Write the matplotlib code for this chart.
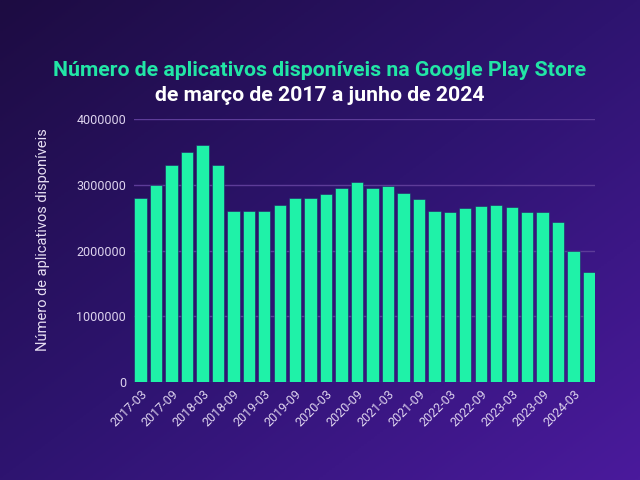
import matplotlib

matplotlib.use("Agg")
import matplotlib.pyplot as plt
import numpy as np
from matplotlib.colors import LinearSegmentedColormap

# quarterly periods, March 2017 .. June 2024
periods = [f"{y}-{m:02d}" for y in range(2017, 2025) for m in (3, 6, 9, 12)][:30]
apps = [
    2800000, 3000000, 3300000, 3500000, 3600000, 3300000,
    2600000, 2600000, 2600000, 2700000, 2800000, 2800000,
    2860000, 2950000, 3040000, 2950000, 2980000, 2880000,
    2780000, 2600000, 2590000, 2650000, 2680000, 2690000,
    2670000, 2590000, 2590000, 2430000, 1990000, 1680000,
]
yticks = [0, 1000000, 2000000, 3000000, 4000000]

title_1 = "Número de aplicativos disponíveis na Google Play Store"
title_2 = "de março de 2017 a junho de 2024"
ylabel = "Número de aplicativos disponíveis"

plt.rcParams["font.family"] = ["Roboto", "DejaVu Sans"]

fig = plt.figure(figsize=(6.4, 4.8), dpi=100)

# diagonal purple gradient background: dark top-left -> violet bottom-right
bg = fig.add_axes([0, 0, 1, 1], zorder=0)
xx, yy = np.meshgrid(np.linspace(0, 1, 200), np.linspace(0, 1, 200))
grad = 0.5 * xx + 0.5 * yy
cmap = LinearSegmentedColormap.from_list("bg", ["#1d0c42", "#2e1470", "#4a1a9c"])
bg.imshow(grad, cmap=cmap, aspect="auto", extent=[0, 1, 0, 1], origin="upper")
bg.axis("off")

ax = fig.add_axes([0.21, 0.204, 0.72, 0.548], zorder=1)
ax.patch.set_alpha(0)

x = np.arange(len(apps))
ax.bar(x, apps, width=0.8, color="#1ff2a8", edgecolor="#2a1a6a", linewidth=0.4, zorder=2)

ax.set_xlim(-0.4, len(apps) - 0.6)
ax.set_ylim(0, 4000000)
ax.set_yticks(yticks)
ax.set_yticklabels([str(v) for v in yticks])
ax.set_xticks(x[::2])
ax.set_xticklabels(periods[::2], rotation=45, ha="right", rotation_mode="anchor")

ax.grid(axis="y", color="#5d3c98", lw=1, zorder=0)
for s in ax.spines.values():
    s.set_visible(False)
ax.tick_params(colors="#ddd3ee", labelsize=9, length=0, pad=6)
ax.tick_params(axis="x", pad=4)
ax.set_ylabel(ylabel, color="#e6def2", fontsize=10.5)
ax.yaxis.set_label_coords(-0.184, 0.54)

fig.text(0.5, 0.834, title_1, ha="center", va="bottom", color="#22e6a6",
         fontsize=15.3, fontweight="bold")
fig.text(0.5, 0.782, title_2, ha="center", va="bottom", color="white",
         fontsize=15.3, fontweight="bold")

fig.savefig("out.png", dpi=100)
